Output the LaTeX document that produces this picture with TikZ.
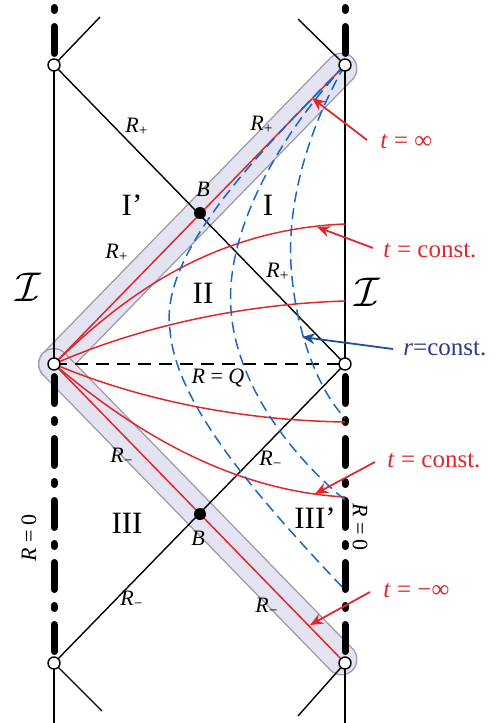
\documentclass[tikz,border=0pt]{standalone}
\usepackage{fontspec}
\setmainfont{Liberation Serif}
\usetikzlibrary{arrows.meta}
\definecolor{bandfill}{HTML}{E3E3F1}
\definecolor{bandedge}{HTML}{9C9CA6}
\definecolor{myred}{HTML}{E0282C}
\definecolor{myblue}{HTML}{1A66C0}
\definecolor{navy}{HTML}{2B3990}
\definecolor{arrblue}{HTML}{1F4E9E}
\pgfdeclarelayer{bg}
\pgfsetlayers{bg,main}
\begin{document}
\begin{tikzpicture}[x=0.5pt,y=-0.5pt,
  blk/.style={line width=0.7pt,black},
  redl/.style={line width=0.75pt,myred},
  bluedash/.style={line width=0.75pt,myblue,dash pattern=on 5.5pt off 3pt},
  thickdash/.style={line width=3.5pt,black,line cap=round,dash pattern=on 13.5pt off 8pt on 1.5pt off 8pt},
  hdash/.style={line width=0.7pt,black,dash pattern=on 6.5pt off 4pt},
  bandE/.style={line width=16pt,bandedge,line cap=round},
  bandF/.style={line width=14.6pt,bandfill,line cap=round},
  opencirc/.style={circle,draw=black,fill=white,line width=0.7pt,minimum size=6pt,inner sep=0pt},
  fulldot/.style={circle,fill=black,minimum size=6pt,inner sep=0pt},
  lab/.style={font=\fontsize{11}{13}\selectfont,inner sep=0pt},
  roman/.style={font=\fontsize{15.5}{17}\selectfont,inner sep=0pt},
  cal/.style={font=\fontsize{20}{24}\selectfont,inner sep=0pt},
  redlab/.style={font=\fontsize{12.5}{14}\selectfont,text=myred,inner sep=0pt},
  bluelab/.style={font=\fontsize{12.5}{14}\selectfont,text=navy,inner sep=0pt},
  redarrow/.style={line width=0.9pt,myred,-{Stealth[length=6.5pt,width=5.5pt]}},
  bluearrow/.style={line width=0.9pt,arrblue,-{Stealth[length=6.5pt,width=5.5pt]}}
]
\useasboundingbox (0,0) rectangle (497,723);

% corner points
\node[opencirc] (TL) at (54,65) {};
\node[opencirc] (TR) at (345,65) {};
\node[opencirc] (ML) at (54,364) {};
\node[opencirc] (MR) at (345,364) {};
\node[opencirc] (BL) at (54,663) {};
\node[opencirc] (BR) at (345,663) {};

\coordinate (bTR) at (341.5,68.6);
\coordinate (bBR) at (341.5,659.4);
\coordinate (stTL) at (100,17);
\coordinate (stTR) at (298,19);
\coordinate (stBL) at (102,711);
\coordinate (stBR) at (298,716);
\coordinate (eBL) at (54,723);
\coordinate (eBR) at (345,723);
\coordinate (rc1) at (345,224);
\coordinate (rc2) at (345,301);
\coordinate (rc3) at (345,422);
\coordinate (rc4) at (345,497);
\coordinate (bcA) at (345,418);
\coordinate (bcB) at (345,500);
\coordinate (bcC) at (345,590);

\begin{pgfonlayer}{bg}
% shaded bands
\draw[bandE] (ML.center) -- (bTR);
\draw[bandF] (ML.center) -- (bTR);
\draw[bandE] (ML.center) -- (bBR);
\draw[bandF] (ML.center) -- (bBR);

% thick dashed R=0 lines
\draw[thickdash] (54,53.5) -- (54,5);
\draw[thickdash] (345,53.5) -- (345,5);
\draw[thickdash] (54,376.5) -- (54,651.5);
\draw[thickdash] (345,376.5) -- (345,651.5);

% thin lines
\draw[blk] (TL.center) -- (ML.center);
\draw[blk] (TR.center) -- (MR.center);
\draw[blk] (BL.center) -- (eBL);
\draw[blk] (BR.center) -- (eBR);
\draw[blk] (TL.center) -- (stTL);
\draw[blk] (TR.center) -- (stTR);
\draw[blk] (BL.center) -- (stBL);
\draw[blk] (BR.center) -- (stBR);
\draw[blk] (TL.center) -- (MR.center);
\draw[blk] (BL.center) -- (MR.center);
\draw[hdash] (ML.center) -- (MR.center);

% red lines t = +-infinity
\draw[redl] (ML.center) -- (TR.center);
\draw[redl] (ML.center) -- (BR.center);

% red t = const curves
\draw[redl] (ML.center) .. controls (110,310) and (200,230) .. (rc1);
\draw[redl] (ML.center) .. controls (120,335) and (220,305) .. (rc2);
\draw[redl] (ML.center) .. controls (120,392) and (220,420) .. (rc3);
\draw[redl] (ML.center) .. controls (120,420) and (220,490) .. (rc4);

% blue r = const curves
\draw[bluedash] (TR.center) .. controls (310,125) and (287,200) .. (291,265) .. controls (295,330) and (318,390) .. (bcA);
\draw[bluedash] (TR.center) .. controls (275,140) and (225,235) .. (231,310) .. controls (236,380) and (285,450) .. (bcB);
\draw[bluedash] (TR.center) .. controls (240,170) and (160,260) .. (170,330) .. controls (175,400) and (250,490) .. (bcC);
\end{pgfonlayer}

% B points
\node[fulldot] (B1) at (200,213) {};
\node[fulldot] (B2) at (200,514) {};

% labels
\node[lab] (lRp1) at (137,127) {\textit{R}\textsubscript{+}};
\node[lab] (lRp2) at (262,125) {\textit{R}\textsubscript{+}};
\node[lab] (lRp3) at (117,253) {\textit{R}\textsubscript{+}};
\node[lab] (lRp4) at (278,272) {\textit{R}\textsubscript{+}};
\node[lab] (lRm1) at (122,457) {\textit{R}\textsubscript{−}};
\node[lab] (lRm2) at (271,460) {\textit{R}\textsubscript{−}};
\node[lab] (lRm3) at (132,600) {\textit{R}\textsubscript{−}};
\node[lab] (lRm4) at (267,607) {\textit{R}\textsubscript{−}};
\node[lab] (lB1) at (203,189) {\textit{B}};
\node[lab] (lB2) at (198,538) {\textit{B}};
\node[lab] (lRQ) at (218,378) {\textit{R} = \textit{Q}};
\node[lab,rotate=90] (lR0a) at (29,538) {\textit{R} = 0};
\node[lab,rotate=-90] (lR0b) at (360,527) {\textit{R} = 0};
\node[roman] (lI1) at (132,205) {I’};
\node[roman] (lI) at (268,205) {I};
\node[roman] (lII) at (203,293) {II};
\node[roman] (lIII) at (127,523) {III};
\node[roman] (lIII1) at (315,518) {III’};
\node[cal] (lScrL) at (28,287) {$\mathcal{I}$};
\node[cal] (lScrR) at (367,292) {$\mathcal{I}$};

% arrow labels
\node[redlab,anchor=base west] (tInf) at (380,148) {\textit{t} = ∞};
\node[redlab,anchor=base west] (tC1) at (383,257) {\textit{t} = const.};
\node[bluelab,anchor=base west] (rC) at (403,355) {\textit{r}=const.};
\node[redlab,anchor=base west] (tC2) at (387,467) {\textit{t} = const.};
\node[redlab,anchor=base west] (tmInf) at (383,597) {\textit{t} = −∞};

\coordinate (aInf) at (367,140);
\coordinate (hInf) at (312,98);
\coordinate (aC1) at (373,248);
\coordinate (hC1) at (317,227);
\coordinate (aR) at (393,349);
\coordinate (hR) at (302,337);
\coordinate (aC2) at (375,462);
\coordinate (hC2) at (315,494);
\coordinate (amInf) at (370,592);
\coordinate (hmInf) at (310,625);
\draw[redarrow] (aInf) -- (hInf);
\draw[redarrow] (aC1) -- (hC1);
\draw[bluearrow] (aR) -- (hR);
\draw[redarrow] (aC2) -- (hC2);
\draw[redarrow] (amInf) -- (hmInf);
\end{tikzpicture}
\end{document}
